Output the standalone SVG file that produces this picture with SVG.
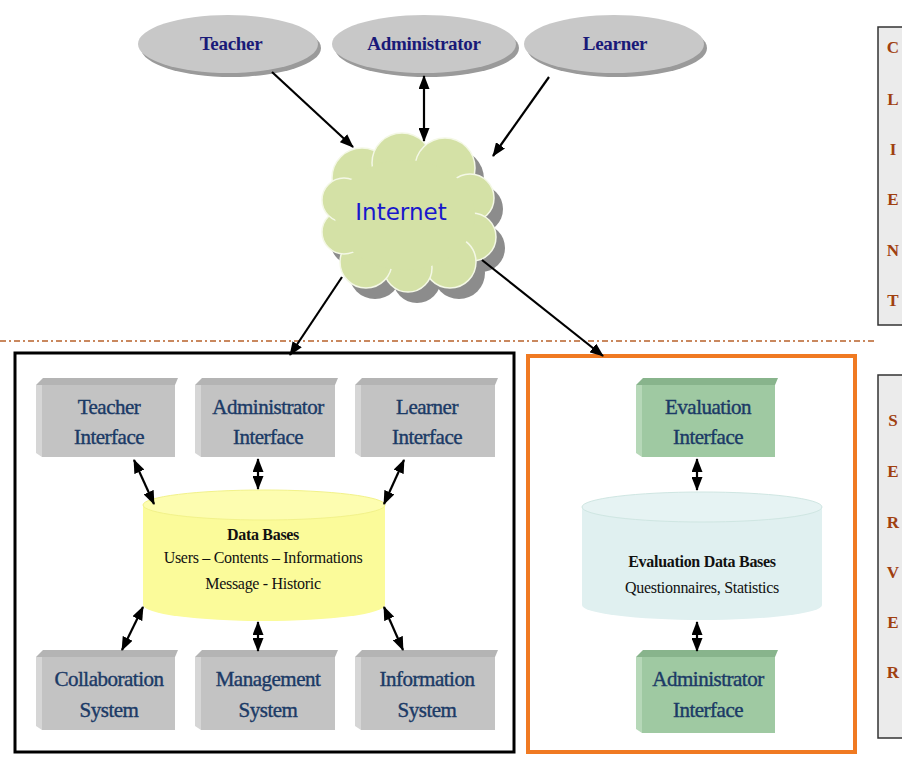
<svg xmlns="http://www.w3.org/2000/svg" width="902" height="769" viewBox="0 0 902 769">
<defs>
<marker id="ah" viewBox="0 0 14 11" refX="13" refY="5.5" markerWidth="14" markerHeight="11" markerUnits="userSpaceOnUse" orient="auto-start-reverse">
<path d="M0,0 L14,5.5 L0,11 z" fill="#000"/>
</marker>
<style>
.lbl{font-family:"Liberation Serif","Times New Roman",serif;font-size:21px;fill:#1b3a66;stroke:#1b3a66;stroke-width:0.4;letter-spacing:-0.5px;text-anchor:middle;}
.ell{font-family:"Liberation Serif","Times New Roman",serif;font-size:19px;font-weight:bold;fill:#1a1a78;letter-spacing:-0.3px;text-anchor:middle;}
.db{font-family:"Liberation Serif","Times New Roman",serif;font-size:16px;fill:#111;letter-spacing:-0.3px;text-anchor:middle;}
.side{font-family:"Liberation Serif","Times New Roman",serif;font-size:17px;font-weight:bold;fill:#a04010;text-anchor:middle;}
.conn{stroke:#000;stroke-width:2.2;fill:none;}
.gfront{fill:#c3c3c3;}
.gtop{fill:#b4b4b4;}
.gleft{fill:#d6d6d6;}
.nfront{fill:#9fc9a2;}
.ntop{fill:#88b48c;}
.nleft{fill:#b6d8b8;}
</style>
</defs>
<rect width="902" height="769" fill="#fff"/>

<!-- side labels -->
<g id="client">
<rect x="878" y="27" width="30" height="298" fill="#ebebeb" stroke="#333" stroke-width="1.5"/>
<text class="side" x="893" y="53">C</text>
<text class="side" x="893" y="105">L</text>
<text class="side" x="893" y="155">I</text>
<text class="side" x="893" y="205">E</text>
<text class="side" x="893" y="256">N</text>
<text class="side" x="893" y="306">T</text>
</g>
<g id="server">
<rect x="878" y="375" width="30" height="363" fill="#ebebeb" stroke="#333" stroke-width="1.5"/>
<text class="side" x="893" y="426">S</text>
<text class="side" x="893" y="477">E</text>
<text class="side" x="893" y="528">R</text>
<text class="side" x="893" y="578">V</text>
<text class="side" x="893" y="628">E</text>
<text class="side" x="893" y="678">R</text>
</g>

<line x1="0" y1="341" x2="876" y2="341" stroke="#b8612a" stroke-width="1.3" stroke-dasharray="6,3,2,3"/>

<!-- containers -->
<g id="serverLeft"><rect x="15" y="353" width="499" height="399" fill="none" stroke="#000" stroke-width="3"/></g>
<g id="serverRight"><rect x="528" y="356" width="327" height="396" fill="none" stroke="#f07a22" stroke-width="4"/></g>

<!-- user ellipses -->
<g id="teacher">
<ellipse cx="231" cy="48" rx="90" ry="29" fill="#9a9a9a"/>
<ellipse cx="228" cy="44" rx="90" ry="29" fill="#c8c8c8"/>
<text class="ell" x="231" y="50">Teacher</text>
</g>
<g id="administrator">
<ellipse cx="427" cy="48" rx="92" ry="29" fill="#9a9a9a"/>
<ellipse cx="424" cy="44" rx="92" ry="29" fill="#c8c8c8"/>
<text class="ell" x="424" y="50">Administrator</text>
</g>
<g id="learner">
<ellipse cx="617" cy="48" rx="90" ry="29" fill="#9a9a9a"/>
<ellipse cx="614" cy="44" rx="90" ry="29" fill="#c8c8c8"/>
<text class="ell" x="615" y="50">Learner</text>
</g>

<!-- cloud -->
<g id="internet">
<g fill="#8c8c8c" transform="translate(9,11)">
<circle cx="362" cy="178" r="30"/><circle cx="402" cy="163" r="30"/><circle cx="445" cy="168" r="30"/>
<circle cx="470" cy="198" r="24"/><circle cx="472" cy="237" r="24"/><circle cx="450" cy="262" r="26"/>
<circle cx="408" cy="268" r="24"/><circle cx="366" cy="262" r="26"/><circle cx="344" cy="232" r="22"/>
<circle cx="344" cy="200" r="22"/><ellipse cx="405" cy="215" rx="70" ry="55"/>
</g>
<g fill="#d4e1a6" stroke="#f4f8e6" stroke-width="1.5">
<circle cx="362" cy="178" r="30"/><circle cx="402" cy="163" r="30"/><circle cx="445" cy="168" r="30"/>
<circle cx="470" cy="198" r="24"/><circle cx="472" cy="237" r="24"/><circle cx="450" cy="262" r="26"/>
<circle cx="408" cy="268" r="24"/><circle cx="366" cy="262" r="26"/><circle cx="344" cy="232" r="22"/>
<circle cx="344" cy="200" r="22"/>
</g>
<ellipse cx="405" cy="215" rx="70" ry="55" fill="#d4e1a6"/>
<text x="401" y="220" font-family="'DejaVu Sans',Verdana,sans-serif" font-size="23" fill="#1818cc" text-anchor="middle">Internet</text>
</g>

<!-- grey interface boxes -->
<g id="teacherInterface">
<polygon class="gtop" points="36,385 43,378 178,378 175,385"/>
<polygon class="gleft" points="36,385 42,385 42,457 36,453"/>
<rect class="gfront" x="42" y="385" width="133" height="72"/>
<text class="lbl" x="109" y="414">Teacher</text><text class="lbl" x="109" y="444">Interface</text>
</g>
<g id="administratorInterface">
<polygon class="gtop" points="195,385 202,378 338,378 335,385"/>
<polygon class="gleft" points="195,385 201,385 201,457 195,453"/>
<rect class="gfront" x="201" y="385" width="134" height="72"/>
<text class="lbl" x="268" y="414">Administrator</text><text class="lbl" x="268" y="444">Interface</text>
</g>
<g id="learnerInterface">
<polygon class="gtop" points="355,385 362,378 498,378 495,385"/>
<polygon class="gleft" points="355,385 361,385 361,457 355,453"/>
<rect class="gfront" x="361" y="385" width="134" height="72"/>
<text class="lbl" x="427" y="414">Learner</text><text class="lbl" x="427" y="444">Interface</text>
</g>
<g id="collaborationSystem">
<polygon class="gtop" points="36,657 43,650 178,650 175,657"/>
<polygon class="gleft" points="36,657 42,657 42,730 36,726"/>
<rect class="gfront" x="42" y="657" width="133" height="73"/>
<text class="lbl" x="109" y="686">Collaboration</text><text class="lbl" x="109" y="717">System</text>
</g>
<g id="managementSystem">
<polygon class="gtop" points="195,657 202,650 338,650 335,657"/>
<polygon class="gleft" points="195,657 201,657 201,730 195,726"/>
<rect class="gfront" x="201" y="657" width="134" height="73"/>
<text class="lbl" x="268" y="686">Management</text><text class="lbl" x="268" y="717">System</text>
</g>
<g id="informationSystem">
<polygon class="gtop" points="355,657 362,650 498,650 495,657"/>
<polygon class="gleft" points="355,657 361,657 361,730 355,726"/>
<rect class="gfront" x="361" y="657" width="134" height="73"/>
<text class="lbl" x="427" y="686">Information</text><text class="lbl" x="427" y="717">System</text>
</g>

<!-- green boxes -->
<g id="evaluationInterface">
<polygon class="ntop" points="636,385 643,378 778,378 775,385"/>
<polygon class="nleft" points="636,385 642,385 642,457 636,453"/>
<rect class="nfront" x="642" y="385" width="133" height="72"/>
<text class="lbl" x="708" y="414">Evaluation</text><text class="lbl" x="708" y="444">Interface</text>
</g>
<g id="evalAdministratorInterface">
<polygon class="ntop" points="636,657 643,650 778,650 775,657"/>
<polygon class="nleft" points="636,657 642,657 642,733 636,729"/>
<rect class="nfront" x="642" y="657" width="133" height="76"/>
<text class="lbl" x="708" y="686">Administrator</text><text class="lbl" x="708" y="717">Interface</text>
</g>

<!-- databases -->
<g id="dataBases">
<path d="M143,505 L143,605 A121,16 0 0 0 385,605 L385,505 z" fill="#fbfb9a"/>
<ellipse cx="264" cy="505" rx="121" ry="15" fill="#fdfdb0" stroke="#f2f28a" stroke-width="1"/>
<text class="db" x="263" y="540" font-weight="bold">Data Bases</text>
<text class="db" x="263" y="563">Users – Contents – Informations</text>
<text class="db" x="263" y="589">Message - Historic</text>
</g>
<g id="evaluationDataBases">
<path d="M582,507 L582,605 A120,15 0 0 0 822,605 L822,507 z" fill="#e0f0f0"/>
<ellipse cx="702" cy="507" rx="120" ry="15" fill="#e6f3f3" stroke="#cfe6e2" stroke-width="1"/>
<text class="db" x="702" y="567" font-weight="bold">Evaluation Data Bases</text>
<text class="db" x="702" y="593">Questionnaires, Statistics</text>
</g>

<!-- connectors -->
<g id="connectors" class="conn">
<line x1="272" y1="72" x2="353" y2="147" marker-end="url(#ah)"/>
<line x1="424" y1="76" x2="424" y2="141" marker-start="url(#ah)" marker-end="url(#ah)"/>
<line x1="549" y1="77" x2="493" y2="156" marker-end="url(#ah)"/>
<line x1="342" y1="277" x2="290" y2="355" marker-end="url(#ah)"/>
<line x1="482" y1="260" x2="603" y2="356" marker-end="url(#ah)"/>
<line x1="134" y1="460" x2="154" y2="504" marker-start="url(#ah)" marker-end="url(#ah)"/>
<line x1="258" y1="459" x2="258" y2="489" marker-start="url(#ah)" marker-end="url(#ah)"/>
<line x1="404" y1="460" x2="384" y2="504" marker-start="url(#ah)" marker-end="url(#ah)"/>
<line x1="143" y1="607" x2="122" y2="650" marker-start="url(#ah)" marker-end="url(#ah)"/>
<line x1="258" y1="622" x2="258" y2="651" marker-start="url(#ah)" marker-end="url(#ah)"/>
<line x1="384" y1="607" x2="403" y2="650" marker-start="url(#ah)" marker-end="url(#ah)"/>
<line x1="697" y1="459" x2="697" y2="490" marker-start="url(#ah)" marker-end="url(#ah)"/>
<line x1="697" y1="622" x2="697" y2="651" marker-start="url(#ah)" marker-end="url(#ah)"/>
</g>
</svg>
